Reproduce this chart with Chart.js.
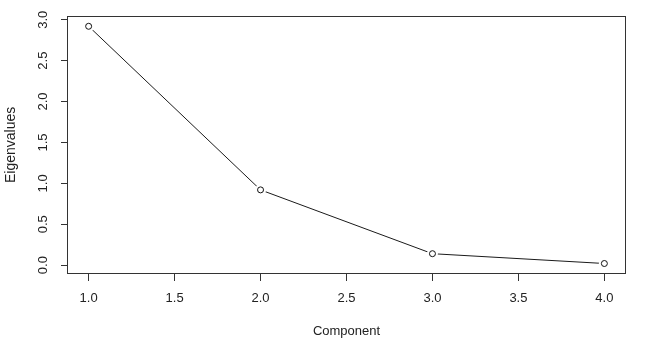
<!DOCTYPE html>
<html>
<head>
<meta charset="utf-8">
<script src="https://cdn.jsdelivr.net/npm/chart.js@4/dist/chart.umd.min.js"></script>
<style>
  html, body { margin: 0; padding: 0; background: #ffffff; }
  #wrap { width: 660px; height: 358px; }
</style>
</head>
<body>
<div id="wrap"><canvas id="c" width="660" height="358"></canvas></div>
<script>
// ---- data ----
const components = [1, 2, 3, 4];
const eigenvalues = [2.92, 0.92, 0.14, 0.02];
const xTickValues = [1.0, 1.5, 2.0, 2.5, 3.0, 3.5, 4.0];
const yTickValues = [0.0, 0.5, 1.0, 1.5, 2.0, 2.5, 3.0];
const xTitle = 'Component';
const yTitle = 'Eigenvalues';

const points = components.map((c, i) => ({ x: c, y: eigenvalues[i] }));

const FONT = "'Liberation Sans', Arial, Helvetica, sans-serif";
const TEXT = '#222222';
const AXIS = '#333333';

const boxPlugin = {
  id: 'rbox',
  afterDraw(chart) {
    const { ctx, chartArea: a } = chart;
    ctx.save();
    ctx.strokeStyle = AXIS;
    ctx.lineWidth = 1;
    ctx.strokeRect(Math.round(a.left) - 0.5, Math.round(a.top) - 0.5,
                   Math.round(a.right - a.left) + 1, Math.round(a.bottom - a.top) + 1);
    ctx.restore();
  }
};

new Chart(document.getElementById('c'), {
  type: 'line',
  data: {
    datasets: [
      { // open circles
        data: points, showLine: false, pointRadius: 3, pointHoverRadius: 3,
        pointBackgroundColor: '#ffffff', pointBorderColor: '#111111', pointBorderWidth: 1
      },
      { // white gap around each point (R type = "b")
        data: points, showLine: false, pointRadius: 5.5, pointHoverRadius: 5.5,
        pointBackgroundColor: '#ffffff', pointBorderColor: '#ffffff', pointBorderWidth: 0
      },
      { // connecting line
        data: points, pointRadius: 0, borderColor: '#1a1a1a', borderWidth: 1,
        tension: 0, fill: false
      }
    ]
  },
  options: {
    responsive: false,
    animation: false,
    events: [],
    layout: { padding: { top: 16, right: 35, left: 0, bottom: 0 } },
    plugins: { legend: { display: false }, tooltip: { enabled: false } },
    scales: {
      x: {
        type: 'linear',
        min: 0.88, max: 4.12,
        afterBuildTicks: s => { s.ticks = xTickValues.map(v => ({ value: v })); },
        afterFit: s => { s.height = 85; },
        grid: { display: true, drawOnChartArea: false, drawTicks: true, tickLength: 8, tickColor: AXIS, lineWidth: 1 },
        border: { display: false },
        ticks: {
          padding: 10, color: TEXT, font: { family: FONT, size: 13 },
          maxRotation: 0, minRotation: 0, autoSkip: false,
          callback: v => Number(v).toFixed(1)
        },
        title: { display: true, text: xTitle, color: TEXT, font: { family: FONT, size: 13 }, padding: { top: 0, bottom: 19 } }
      },
      y: {
        type: 'linear',
        min: -0.096, max: 3.036,
        afterBuildTicks: s => { s.ticks = yTickValues.map(v => ({ value: v })); },
        afterFit: s => { s.width = 68; },
        grid: { display: true, drawOnChartArea: false, drawTicks: true, tickLength: 7, tickColor: AXIS, lineWidth: 1 },
        border: { display: false },
        ticks: {
          padding: 9, color: TEXT, font: { family: FONT, size: 13 },
          minRotation: 90, maxRotation: 90, crossAlign: 'center', autoSkip: false,
          callback: v => Number(v).toFixed(1)
        },
        title: { display: true, text: yTitle, color: TEXT, font: { family: FONT, size: 14 }, padding: { top: 3, bottom: 0 } }
      }
    }
  },
  plugins: [boxPlugin]
});
</script>
</body>
</html>
